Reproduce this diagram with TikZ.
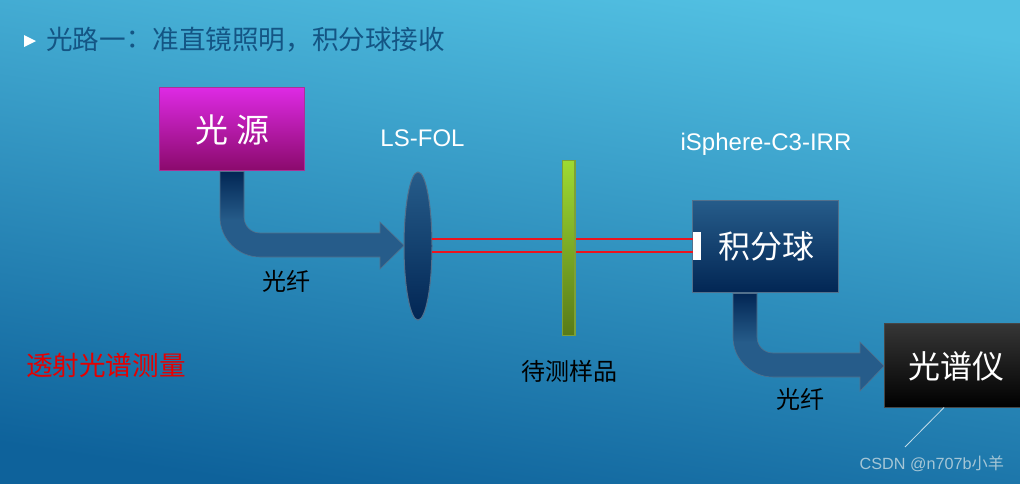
\documentclass[tikz,border=0pt]{standalone}
\usepackage{fontspec}
\setmainfont{Noto Sans CJK SC}
\newfontfamily\latinfont{Liberation Sans}
\newfontfamily\tcfont{Noto Sans CJK TC}
\usetikzlibrary{shapes.geometric,calc}
\definecolor{bgtop}{RGB}{82,192,226}
\definecolor{bgbot}{RGB}{14,98,155}
\definecolor{navy}{RGB}{2,38,84}
\definecolor{steel}{RGB}{38,92,138}
\definecolor{edge}{RGB}{82,112,140}
\definecolor{titleblue}{RGB}{20,85,132}
\definecolor{beamred}{RGB}{235,20,30}
\tikzset{
  x=1pt,y=-1pt,
  txt/.style={inner sep=0pt,outer sep=0pt,font=\fontsize{#1}{#1}\selectfont},
  lat/.style={inner sep=0pt,outer sep=0pt,font=\latinfont\fontsize{#1}{#1}\selectfont},
  boxbase/.style={rectangle,inner sep=0pt,outer sep=0pt,line width=1pt,anchor=north west},
  navyfill/.style={top color=steel,bottom color=navy,draw=edge},
  fibre/.style={top color=navy,bottom color=steel,middle color=steel,draw=edge,line width=.6pt},
  beam/.style={color=beamred,line width=1.4pt},
}
\begin{document}
\begin{tikzpicture}
\useasboundingbox (0,0) rectangle (1020,483);
\shade[shading=axis,bottom color=bgbot,top color=bgtop,shading angle=-9] (-1,-1) rectangle (1021,484);
% title
\path[fill=white] (24,35) -- (36,41) -- (24,47) -- cycle;
\node[txt=26.6,text=titleblue,anchor=west] (title) at (46,40) {光路一{\tcfont\kern-6pt ：\kern6pt}准直镜照明，积分球接收};
% boxes
\node[boxbase,minimum width=145pt,minimum height=83pt,top color={rgb,255:red,222;green,42;blue,228},bottom color={rgb,255:red,138;green,10;blue,108},draw={rgb,255:red,170;green,50;blue,150}] (src) at (159.5,87.5) {};
\node[txt=33,text=white] (srct) at (232.5,130) {光 源};
\node[boxbase,minimum width=146pt,minimum height=92pt,navyfill] (sph) at (692.5,200.5) {};
\node[txt=32,text=white] (spht) at (766,246) {积分球};
\node[boxbase,minimum width=140pt,minimum height=84pt,top color={rgb,255:red,54;green,54;blue,54},bottom color=black,draw={rgb,255:red,70;green,70;blue,70}] (spec) at (884,323.5) {};
\node[txt=32,text=white] (spect) at (956,366) {光谱仪};
% fibres
\path[fibre] (220,171.5) -- (220,217) .. controls (220,239) and (238,257) .. (260,257) -- (380,257) -- (380,269) -- (404,245.5) -- (380,222) -- (380,233) -- (260,233) .. controls (251,233) and (244,226) .. (244,217) -- (244,171.5) -- cycle;
\path[fibre] (733,293.5) -- (733,337) .. controls (733,359) and (751,377) .. (773,377) -- (860,377) -- (860,391) -- (884,366) -- (860,342) -- (860,353) -- (773,353) .. controls (764,353) and (757,346) .. (757,337) -- (757,293.5) -- cycle;
% lens
\node[ellipse,inner sep=0pt,outer sep=0pt,minimum width=28pt,minimum height=148pt,navyfill,line width=1pt] (lens) at (418,246) {};
% beams
\node[rectangle,inner sep=0pt,outer sep=0pt,fill=white,minimum width=8pt,minimum height=28pt,anchor=north west] (win) at (693,232) {};
\coordinate (b1) at (560,238.8);
\coordinate (b2) at (560,252);
\draw[beam] (lens.east |- b1) -- (win.west |- b1);
\draw[beam] (lens.east |- b2) -- (win.west |- b2);
% sample
\node[boxbase,minimum width=12.5pt,minimum height=175pt,line width=1.2pt,top color={rgb,255:red,158;green,218;blue,50},bottom color={rgb,255:red,88;green,122;blue,24},draw={rgb,255:red,125;green,160;blue,55}] (samp) at (562.5,160.5) {};
% labels
\node[lat=24,text=white] (lslab) at (422.5,138) {LS-FOL};
\node[lat=24,text=white] (islab) at (766,144.5) {iSphere-C3-IRR};
\node[txt=24,text=black] (f1) at (286,281) {光纤};
\node[txt=24,text=black] (f2) at (800,399) {光纤};
\node[txt=24,text=black] (samplab) at (569,371) {待测样品};
\node[txt=26.6,text=red!90!black] (meas) at (106,365) {透射光谱测量};
% watermark
\coordinate (wm) at (905,447);
\draw[draw={rgb,255:red,195;green,220;blue,232},line width=.8pt] (spec.south west -| 944,0) -- (wm);
\node[lat=16.2,text={rgb,255:red,165;green,198;blue,214},anchor=east] (csdn) at (1004,464) {CSDN @n707b\normalfont 小羊};
\end{tikzpicture}
\end{document}
